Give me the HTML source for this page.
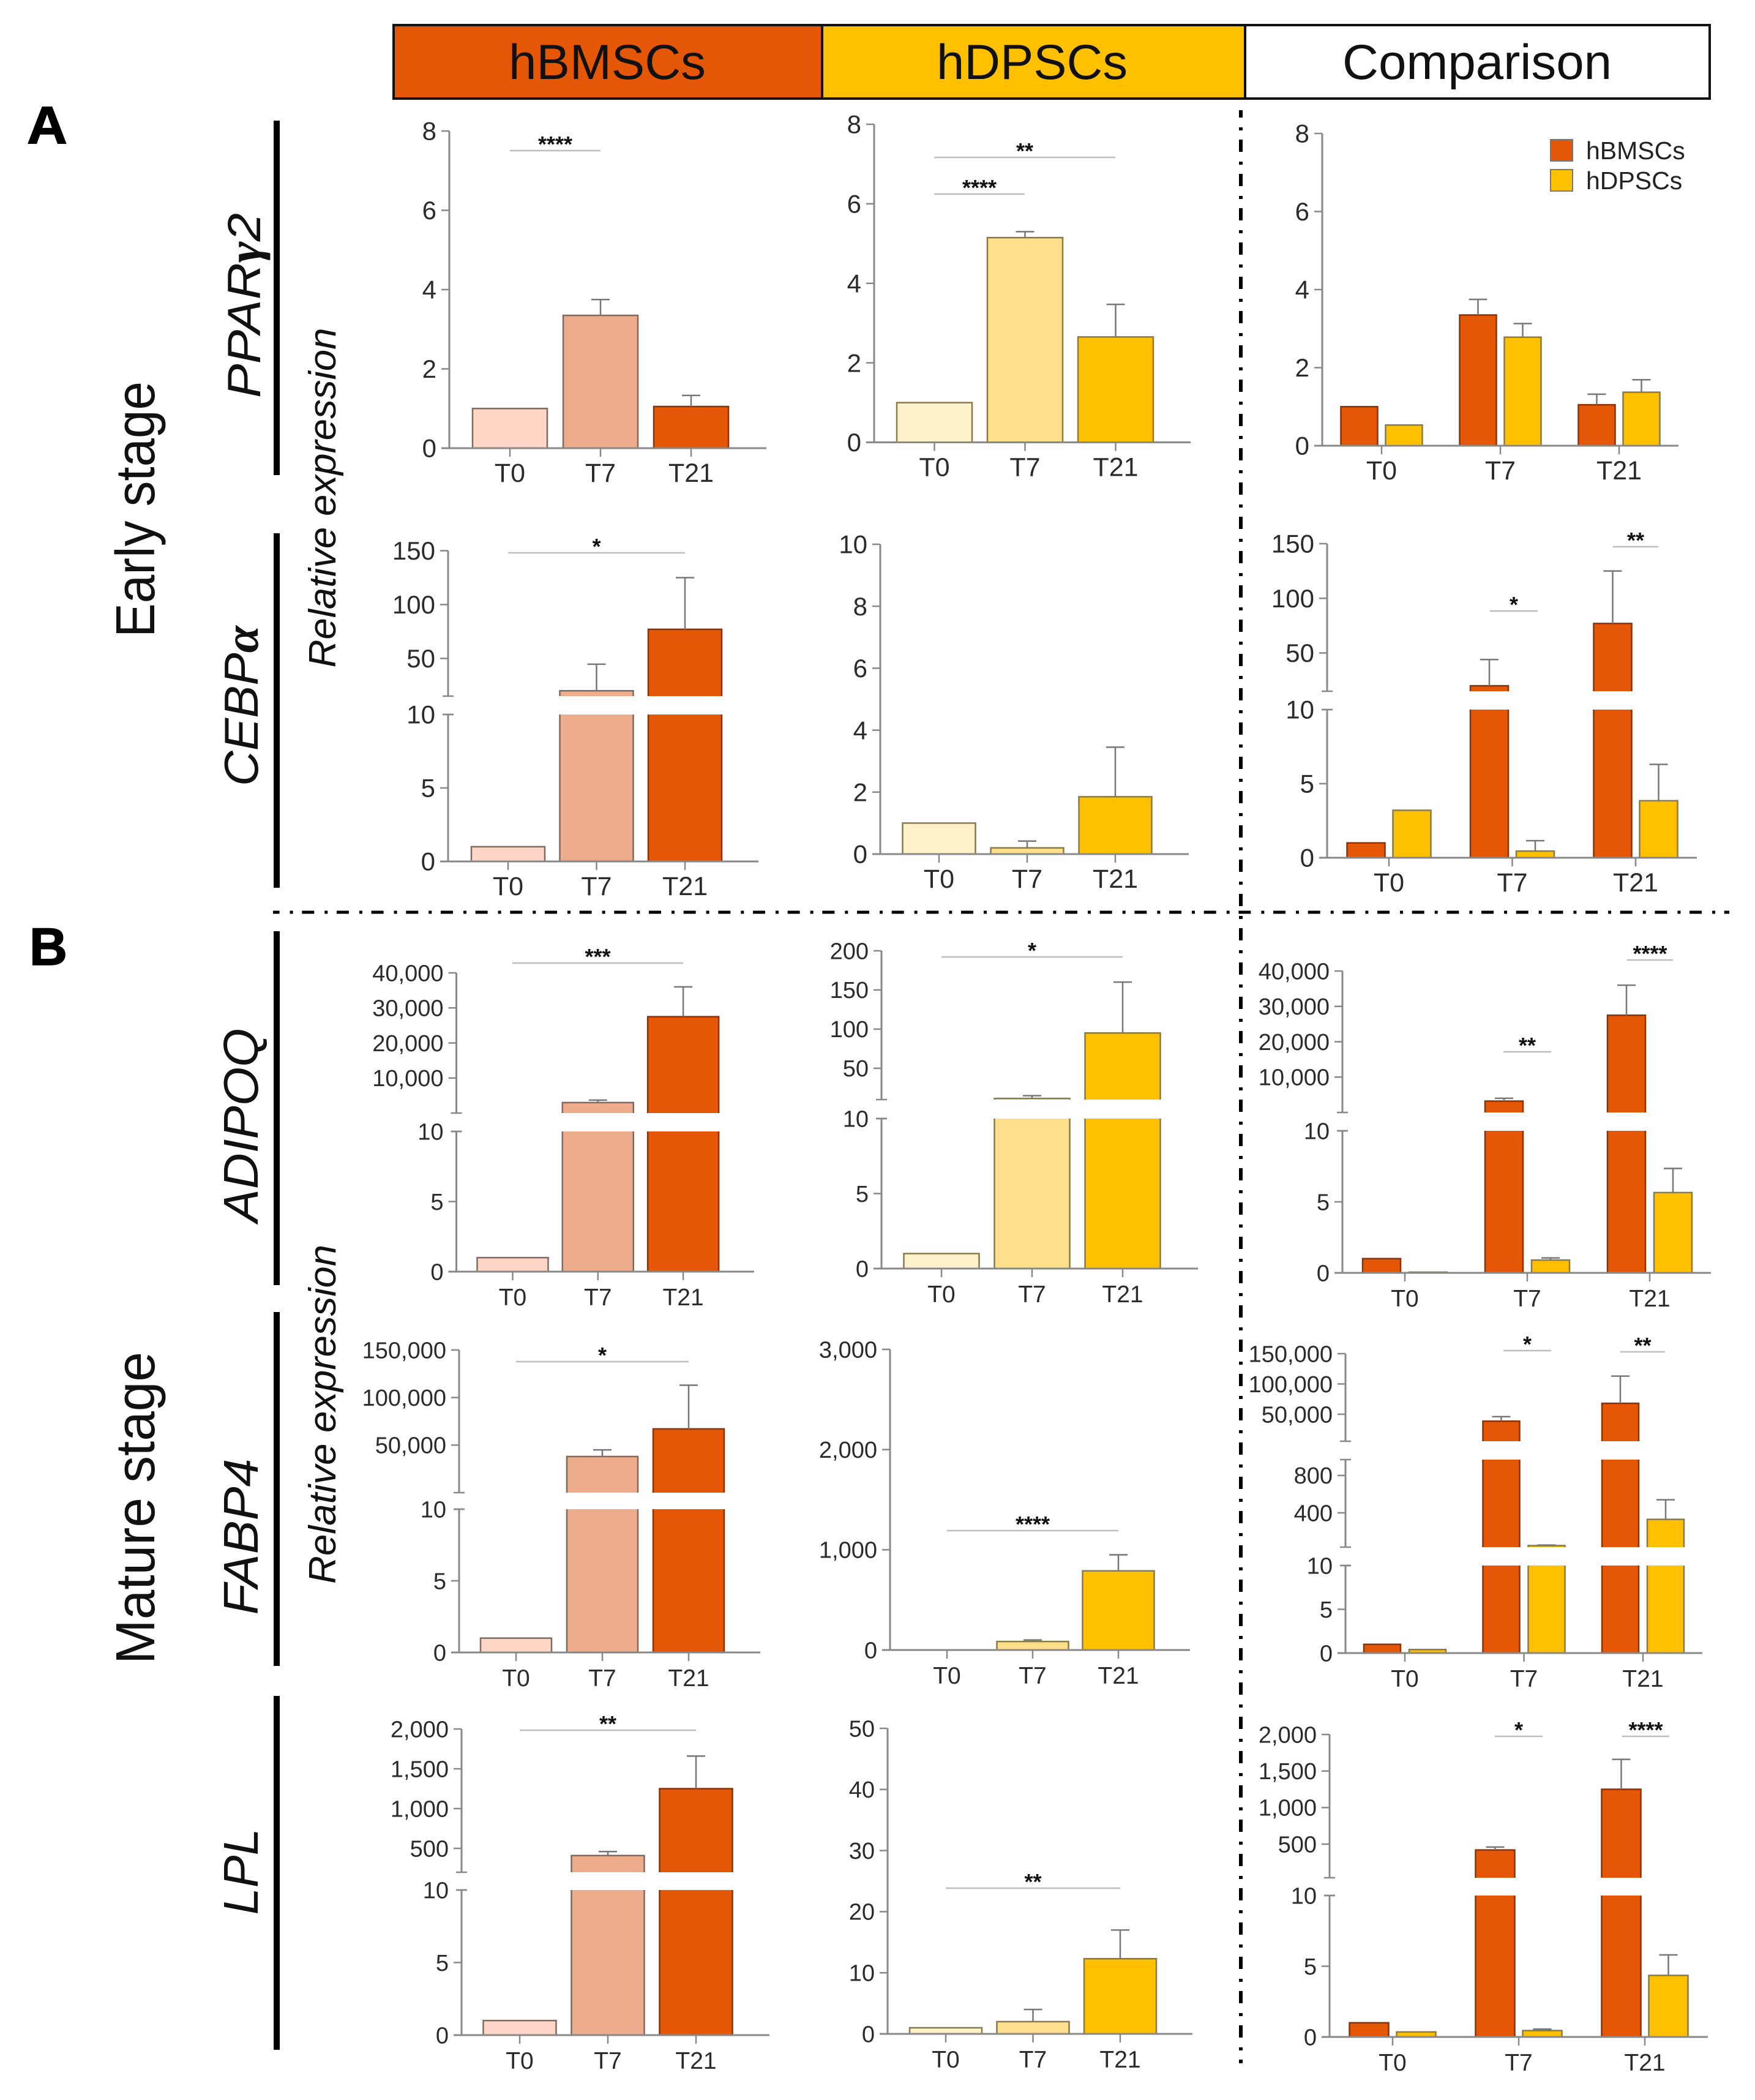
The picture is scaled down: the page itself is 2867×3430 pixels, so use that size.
<!DOCTYPE html>
<html lang="en">
<head>
<meta charset="utf-8">
<title>Relative expression of adipogenic genes</title>
<style>
html,body{margin:0;padding:0;background:#fff;}
svg{display:block;}
text{font-family:"Liberation Sans",Arial,sans-serif;}
.greek{font-family:"Liberation Serif",serif;font-weight:bold;font-style:italic;}
</style>
</head>
<body>
<svg id="figure" xmlns="http://www.w3.org/2000/svg" width="2867" height="3430" viewBox="0 0 2867 3430">
<rect x="0" y="0" width="2867" height="3430" fill="#ffffff"/>

<g>
  <rect x="643" y="41" width="700" height="120" fill="#E35706" stroke="#111" stroke-width="4"/>
  <rect x="1343" y="41" width="691" height="120" fill="#FFC000" stroke="#111" stroke-width="4"/>
  <rect x="2034" y="41" width="759" height="120" fill="#ffffff" stroke="#111" stroke-width="4"/>
  <text x="992" y="129" font-size="81" text-anchor="middle" textLength="322" lengthAdjust="spacingAndGlyphs" fill="#111">hBMSCs</text>
  <text x="1686" y="129" font-size="81" text-anchor="middle" textLength="312" lengthAdjust="spacingAndGlyphs" fill="#111">hDPSCs</text>
  <text x="2413" y="129" font-size="81" text-anchor="middle" textLength="440" lengthAdjust="spacingAndGlyphs" fill="#111">Comparison</text>
</g>

<text x="44" y="234" font-size="86" font-weight="bold" fill="#000" stroke="#000" stroke-width="1.5" textLength="66" lengthAdjust="spacingAndGlyphs">A</text>
<text x="48" y="1576" font-size="86" font-weight="bold" fill="#000" stroke="#000" stroke-width="1.5" textLength="62" lengthAdjust="spacingAndGlyphs">B</text>

<text transform="translate(252,832) rotate(-90)" font-size="90" text-anchor="middle" textLength="418" lengthAdjust="spacingAndGlyphs" fill="#111">Early stage</text>
<text transform="translate(252,2463) rotate(-90)" font-size="90" text-anchor="middle" textLength="510" lengthAdjust="spacingAndGlyphs" fill="#111">Mature stage</text>

<text transform="translate(548,813) rotate(-90)" font-size="62" font-style="italic" text-anchor="middle" textLength="555" lengthAdjust="spacingAndGlyphs" fill="#111">Relative expression</text>
<text transform="translate(548,2310) rotate(-90)" font-size="62" font-style="italic" text-anchor="middle" textLength="554" lengthAdjust="spacingAndGlyphs" fill="#111">Relative expression</text>

<text transform="translate(425,499) rotate(-90)" font-size="76" font-style="italic" text-anchor="middle" textLength="302" lengthAdjust="spacingAndGlyphs" fill="#111">PPAR<tspan class="greek">γ</tspan>2</text>
<text transform="translate(421,1153) rotate(-90)" font-size="78" font-style="italic" text-anchor="middle" textLength="262" lengthAdjust="spacingAndGlyphs" fill="#111">CEBP<tspan class="greek">α</tspan></text>
<text transform="translate(421,1838) rotate(-90)" font-size="80" font-style="italic" text-anchor="middle" textLength="317" lengthAdjust="spacingAndGlyphs" fill="#111">ADIPOQ</text>
<text transform="translate(421,2510) rotate(-90)" font-size="80" font-style="italic" text-anchor="middle" textLength="255" lengthAdjust="spacingAndGlyphs" fill="#111">FABP4</text>
<text transform="translate(421,3057) rotate(-90)" font-size="80" font-style="italic" text-anchor="middle" textLength="141" lengthAdjust="spacingAndGlyphs" fill="#111">LPL</text>

<g fill="#000">
  <rect x="447" y="197" width="10" height="579"/>
  <rect x="447" y="871" width="10" height="579"/>
  <rect x="447" y="1521" width="10" height="578"/>
  <rect x="447" y="2143" width="10" height="578"/>
  <rect x="447" y="2770" width="10" height="578"/>
</g>

<line x1="446" y1="1490" x2="2825" y2="1490" stroke="#000" stroke-width="5" stroke-dasharray="20 17 5 14.67" stroke-dashoffset="9.4"/>
<line x1="2027" y1="180" x2="2027" y2="3370" stroke="#000" stroke-width="6" stroke-dasharray="20 16 5 15" stroke-dashoffset="8"/>

<g id="panels"></g>

<g>
  <rect x="2533" y="228" width="36" height="35" fill="#E35706" stroke="#777" stroke-width="2"/>
  <rect x="2533" y="277" width="36" height="35" fill="#FFC000" stroke="#777" stroke-width="2"/>
  <text x="2591" y="260" font-size="41" fill="#222">hBMSCs</text>
  <text x="2591" y="309" font-size="41" fill="#222">hDPSCs</text>
</g>
</svg>

<script>
// ---- shared categories ----
const timepoints = ['T0', 'T7', 'T21'];

// ---- PPARg2 ----
const ppargBmscMeans = [1, 3.35, 1.05];
const ppargBmscErrorTops = [1, 3.75, 1.33];
const ppargDpscMeans = [1, 5.15, 2.65];
const ppargDpscErrorTops = [1, 5.3, 3.47];
const ppargCmpBmscMeans = [1, 3.35, 1.05];
const ppargCmpBmscErrorTops = [1, 3.75, 1.32];
const ppargCmpDpscMeans = [0.53, 2.78, 1.37];
const ppargCmpDpscErrorTops = [0.53, 3.13, 1.69];
const ppargTicks = [0, 2, 4, 6, 8];

// ---- CEBPa ----
const cebpaBmscMeans = [1, 20, 77];
const cebpaBmscErrorTops = [1, 44.6, 125];
const cebpaDpscMeans = [1, 0.2, 1.85];
const cebpaDpscErrorTops = [1, 0.42, 3.45];
const cebpaCmpBmscMeans = [1, 20, 77];
const cebpaCmpBmscErrorTops = [1, 44, 125];
const cebpaCmpDpscMeans = [3.2, 0.45, 3.85];
const cebpaCmpDpscErrorTops = [3.2, 1.15, 6.3];
const cebpaUpperTicks = [50, 100, 150];
const cebpaLowerTicks = [0, 5, 10];
const cebpaDpscTicks = [0, 2, 4, 6, 8, 10];

// ---- ADIPOQ ----
const adipoqBmscMeans = [1, 3000, 27500];
const adipoqBmscErrorTops = [1, 3700, 36000];
const adipoqDpscMeans = [1, 11.5, 95];
const adipoqDpscErrorTops = [1, 15, 160];
const adipoqCmpBmscMeans = [1, 3200, 27500];
const adipoqCmpBmscErrorTops = [1, 4000, 36000];
const adipoqCmpDpscMeans = [0.05, 0.9, 5.65];
const adipoqCmpDpscErrorTops = [0.05, 1.05, 7.35];
const adipoqUpperTicks = [10000, 20000, 30000, 40000];
const adipoqDpscUpperTicks = [50, 100, 150, 200];
const adipoqLowerTicks = [0, 5, 10];

// ---- FABP4 ----
const fabp4BmscMeans = [1, 38000, 67000];
const fabp4BmscErrorTops = [1, 45000, 113000];
const fabp4DpscMeans = [1, 85, 790];
const fabp4DpscErrorTops = [1, 100, 950];
const fabp4CmpBmscMeans = [1, 38600, 68000];
const fabp4CmpBmscErrorTops = [1, 46000, 113000];
const fabp4CmpDpscMeans = [0.4, 49, 330];
const fabp4CmpDpscErrorTops = [0.4, 55, 540];
const fabp4UpperTicks = [50000, 100000, 150000];
const fabp4MiddleTicks = [400, 800];
const fabp4LowerTicks = [0, 5, 10];
const fabp4DpscTicks = [0, 1000, 2000, 3000];

// ---- LPL ----
const lplBmscMeans = [1, 410, 1250];
const lplBmscErrorTops = [1, 460, 1660];
const lplDpscMeans = [1, 2, 12.3];
const lplDpscErrorTops = [1, 4, 17];
const lplCmpBmscMeans = [1, 420, 1250];
const lplCmpBmscErrorTops = [1, 460, 1660];
const lplCmpDpscMeans = [0.35, 0.45, 4.35];
const lplCmpDpscErrorTops = [0.35, 0.55, 5.8];
const lplUpperTicks = [500, 1000, 1500, 2000];
const lplLowerTicks = [0, 5, 10];
const lplDpscTicks = [0, 10, 20, 30, 40, 50];

// ---- palette ----
const BM = '#E35706', BM_LIGHT = '#EDAD8D', BM_PALE = '#FFD6C6';
const DP = '#FFC000', DP_LIGHT = '#FFDF8B', DP_PALE = '#FFF1C9';
const bmShades = [BM_PALE, BM_LIGHT, BM];
const dpShades = [DP_PALE, DP_LIGHT, DP];
const NS = 'http://www.w3.org/2000/svg';
const root = document.getElementById('panels');

function mk(tag, attrs, parent) {
  const e = document.createElementNS(NS, tag);
  for (const k in attrs) e.setAttribute(k, attrs[k]);
  parent.appendChild(e);
  return e;
}

// y scale for one axis segment
function segScale(s) {
  return v => s.pLo + (v - s.lo) / (s.hi - s.lo) * (s.pHi - s.pLo);
}

function drawBar(g, cx, w, mean, top, fill, segs, stroke) {
  segs.forEach((s, i) => {
    // a bar only reaches a higher axis segment when it exceeds everything below it
    if (mean <= s.lo) return;
    if (i > 0 && mean <= segs[i - 1].hi) return;
    const y = segScale(s);
    const isTop = mean <= s.hi;
    const py = isTop ? y(mean) : s.pHi;
    const x0 = cx - w / 2, x1 = cx + w / 2;
    const r = mk('rect', {x: x0, y: py, width: w, height: s.pLo - py, fill: fill}, g);
    
    
    const d = isTop
      ? `M${x0} ${s.pLo}V${py}H${x1}V${s.pLo}`
      : `M${x0} ${s.pLo}V${py}M${x1} ${py}V${s.pLo}`;
    const o = mk('path', {d: d, fill: 'none', stroke: stroke, 'stroke-width': 2.5}, g);
    
    
    if (isTop && top > mean) {
      const t = Math.min(top, s.hi);
      const ty = y(t);
      const eb = mk('path', {d: `M${cx} ${py}V${ty}M${cx - 15} ${ty}H${cx + 15}`, fill: 'none', stroke: '#777', 'stroke-width': 2.5}, g);
      
      
    }
  });
}

function drawPanel(p) {
  const g = mk('g', {}, root);
  
  
  const fs = p.fs || 40;
  const base = p.segs[0].pLo;

  // bars
  const grouped = p.series.length > 1;
  p.series.forEach((ser, si) => {
    timepoints.forEach((t, i) => {
      const cx = p.c0 + i * p.step + (grouped ? (si === 0 ? -p.off : p.off) : 0);
      const strokeCol = ser.shades[2] === BM ? (grouped || i === 2 ? '#8A3208' : '#7E6A60') : '#8A7A4A';
      drawBar(g, cx, p.barW, ser.means[i], ser.tops[i], ser.shades[i], p.segs, strokeCol);
    });
  });

  // y axis segments
  p.segs.forEach((s, si) => {
    const y = segScale(s);
    const ax = mk('line', {x1: p.x0, x2: p.x0, y1: s.pLo, y2: s.pHi, stroke: '#888', 'stroke-width': 3}, g);
    
    
    if (si > 0) {
      const bt = mk('line', {x1: p.x0 - 9, x2: p.x0 + 9, y1: s.pLo, y2: s.pLo, stroke: '#888', 'stroke-width': 2.5}, g);
      
      
    }
    s.ticks.forEach(v => {
      const py = y(v);
      const isBreak = si < p.segs.length - 1 && v === s.hi;
      const tk = mk('line', {x1: p.x0 - (isBreak ? 9 : 13), x2: p.x0 + (isBreak ? 9 : 0), y1: py, y2: py, stroke: '#888', 'stroke-width': 2.5}, g);
      
      
      const lb = mk('text', {x: p.x0 - 21, y: py + fs * 0.35, 'font-size': fs, 'text-anchor': 'end', fill: '#2b2b2b'}, g);
      
      
      lb.textContent = v.toLocaleString('en-US');
    });
    if (si < p.segs.length - 1) {
      const tp = mk('line', {x1: p.x0 - 9, x2: p.x0 + 9, y1: s.pHi, y2: s.pHi, stroke: '#888', 'stroke-width': 2.5}, g);
      
      
    }
  });

  // x axis
  const xa = mk('line', {x1: p.x0 - 13, x2: p.x1, y1: base, y2: base, stroke: '#888', 'stroke-width': 3}, g);
  
  
  timepoints.forEach((t, i) => {
    const cx = p.c0 + i * p.step;
    const tk = mk('line', {x1: cx, x2: cx, y1: base, y2: base + 14, stroke: '#888', 'stroke-width': 2.5}, g);
    
    
    const lb = mk('text', {x: cx, y: base + 55, 'font-size': fs + 1, 'text-anchor': 'middle', fill: '#2b2b2b'}, g);
    
    
    lb.textContent = t;
  });

  // significance brackets
  (p.sig || []).forEach(sg => {
    const l = mk('line', {x1: sg[0], x2: sg[1], y1: sg[2], y2: sg[2], stroke: '#bdbdbd', 'stroke-width': 2.5}, g);
    
    
    const st = mk('text', {x: (sg[0] + sg[1]) / 2, y: sg[2] + 2, 'font-size': 36, 'font-weight': 'bold', 'text-anchor': 'middle', fill: '#111'}, g);
    
    
    st.textContent = sg[3];
  });
}

function single(means, tops, shades) { return [{means: means, tops: tops, shades: shades}]; }
function pair(m1, t1, m2, t2) {
  return [{means: m1, tops: t1, shades: [BM, BM, BM]}, {means: m2, tops: t2, shades: [DP, DP, DP]}];
}

// ---- column 1: hBMSCs ----
drawPanel({name: 'panel-pparg2-hbmscs', x0: 734, x1: 1252, c0: 833, step: 148, barW: 122, fs: 42,
  series: single(ppargBmscMeans, ppargBmscErrorTops, bmShades),
  segs: [{lo: 0, hi: 8, pLo: 732, pHi: 214, ticks: ppargTicks}],
  sig: [[833, 981, 246, '****']]});
drawPanel({name: 'panel-cebpa-hbmscs', x0: 732, x1: 1239, c0: 830, step: 144.5, barW: 120, fs: 42,
  series: single(cebpaBmscMeans, cebpaBmscErrorTops, bmShades),
  segs: [{lo: 0, hi: 10, pLo: 1407, pHi: 1167, ticks: cebpaLowerTicks},
         {lo: 15, hi: 150, pLo: 1137, pHi: 899.5, ticks: cebpaUpperTicks}],
  sig: [[830, 1119, 903, '*']]});
drawPanel({name: 'panel-adipoq-hbmscs', x0: 745.5, x1: 1232, c0: 837.5, step: 139.3, barW: 116, fs: 38,
  series: single(adipoqBmscMeans, adipoqBmscErrorTops, bmShades),
  segs: [{lo: 0, hi: 10, pLo: 2077, pHi: 1848, ticks: adipoqLowerTicks},
         {lo: 0, hi: 40000, pLo: 1818, pHi: 1589, ticks: adipoqUpperTicks}],
  sig: [[837, 1116, 1573, '***']]});
drawPanel({name: 'panel-fabp4-hbmscs', x0: 750, x1: 1242, c0: 843, step: 141, barW: 116, fs: 38,
  series: single(fabp4BmscMeans, fabp4BmscErrorTops, bmShades),
  segs: [{lo: 0, hi: 10, pLo: 2699, pHi: 2465, ticks: fabp4LowerTicks},
         {lo: 0, hi: 150000, pLo: 2438, pHi: 2205, ticks: fabp4UpperTicks}],
  sig: [[843, 1125, 2224, '*']]});
drawPanel({name: 'panel-lpl-hbmscs', x0: 754, x1: 1257, c0: 849, step: 144, barW: 119, fs: 38,
  series: single(lplBmscMeans, lplBmscErrorTops, bmShades),
  segs: [{lo: 0, hi: 10, pLo: 3324, pHi: 3087, ticks: lplLowerTicks},
         {lo: 200, hi: 2000, pLo: 3058, pHi: 2824, ticks: lplUpperTicks}],
  sig: [[849, 1137, 2826, '**']]});

// ---- column 2: hDPSCs ----
drawPanel({name: 'panel-pparg2-hdpscs', x0: 1428, x1: 1945, c0: 1526.5, step: 148, barW: 123, fs: 42,
  series: single(ppargDpscMeans, ppargDpscErrorTops, dpShades),
  segs: [{lo: 0, hi: 8, pLo: 722.5, pHi: 203, ticks: ppargTicks}],
  sig: [[1526, 1822, 257, '**'], [1526, 1674, 317, '****']]});
drawPanel({name: 'panel-cebpa-hdpscs', x0: 1438, x1: 1942, c0: 1534, step: 144, barW: 119, fs: 42,
  series: single(cebpaDpscMeans, cebpaDpscErrorTops, dpShades),
  segs: [{lo: 0, hi: 10, pLo: 1395, pHi: 889, ticks: cebpaDpscTicks}]});
drawPanel({name: 'panel-adipoq-hdpscs', x0: 1440, x1: 1957, c0: 1538, step: 148, barW: 123, fs: 38,
  series: single(adipoqDpscMeans, adipoqDpscErrorTops, dpShades),
  segs: [{lo: 0, hi: 10, pLo: 2072, pHi: 1827, ticks: adipoqLowerTicks},
         {lo: 10, hi: 200, pLo: 1796, pHi: 1553, ticks: adipoqDpscUpperTicks}],
  sig: [[1538, 1834, 1563, '*']]});
drawPanel({name: 'panel-fabp4-hdpscs', x0: 1454, x1: 1944, c0: 1547, step: 140, barW: 117, fs: 38,
  series: single(fabp4DpscMeans, fabp4DpscErrorTops, dpShades),
  segs: [{lo: 0, hi: 3000, pLo: 2695, pHi: 2204, ticks: fabp4DpscTicks}],
  sig: [[1547, 1827, 2500, '****']]});
drawPanel({name: 'panel-lpl-hdpscs', x0: 1450, x1: 1948, c0: 1545, step: 142.5, barW: 118, fs: 38,
  series: single(lplDpscMeans, lplDpscErrorTops, dpShades),
  segs: [{lo: 0, hi: 50, pLo: 3322, pHi: 2823, ticks: lplDpscTicks}],
  sig: [[1545, 1830, 3084, '**']]});

// ---- column 3: comparison ----
drawPanel({name: 'panel-pparg2-comparison', x0: 2160, x1: 2742, c0: 2257, step: 194, barW: 60, off: 36.5, fs: 42,
  series: pair(ppargCmpBmscMeans, ppargCmpBmscErrorTops, ppargCmpDpscMeans, ppargCmpDpscErrorTops),
  segs: [{lo: 0, hi: 8, pLo: 728, pHi: 218, ticks: ppargTicks}]});
drawPanel({name: 'panel-cebpa-comparison', x0: 2168, x1: 2772, c0: 2269, step: 201.5, barW: 62, off: 37.5, fs: 42,
  series: pair(cebpaCmpBmscMeans, cebpaCmpBmscErrorTops, cebpaCmpDpscMeans, cebpaCmpDpscErrorTops),
  segs: [{lo: 0, hi: 10, pLo: 1401, pHi: 1159, ticks: cebpaLowerTicks},
         {lo: 15, hi: 150, pLo: 1129, pHi: 888, ticks: cebpaUpperTicks}],
  sig: [[2434, 2512, 998, '*'], [2635, 2709, 893, '**']]});
drawPanel({name: 'panel-adipoq-comparison', x0: 2193, x1: 2795, c0: 2295, step: 200, barW: 62, off: 38, fs: 38,
  series: pair(adipoqCmpBmscMeans, adipoqCmpBmscErrorTops, adipoqCmpDpscMeans, adipoqCmpDpscErrorTops),
  segs: [{lo: 0, hi: 10, pLo: 2079, pHi: 1847, ticks: adipoqLowerTicks},
         {lo: 0, hi: 40000, pLo: 1817, pHi: 1586, ticks: adipoqUpperTicks}],
  sig: [[2456, 2534, 1718, '**'], [2658, 2733, 1568, '****']]});
drawPanel({name: 'panel-fabp4-comparison', x0: 2198, x1: 2781, c0: 2295, step: 194.5, barW: 60, off: 37, fs: 38,
  series: pair(fabp4CmpBmscMeans, fabp4CmpBmscErrorTops, fabp4CmpDpscMeans, fabp4CmpDpscErrorTops),
  segs: [{lo: 0, hi: 10, pLo: 2700, pHi: 2557, ticks: fabp4LowerTicks},
         {lo: 33, hi: 970, pLo: 2527, pHi: 2384, ticks: fabp4MiddleTicks},
         {lo: 5500, hi: 150000, pLo: 2354, pHi: 2211, ticks: fabp4UpperTicks}],
  sig: [[2456, 2534, 2206, '*'], [2647, 2720, 2208, '**']]});
drawPanel({name: 'panel-lpl-comparison', x0: 2172, x1: 2790, c0: 2275, step: 206, barW: 64, off: 38.5, fs: 38,
  series: pair(lplCmpBmscMeans, lplCmpBmscErrorTops, lplCmpDpscMeans, lplCmpDpscErrorTops),
  segs: [{lo: 0, hi: 10, pLo: 3327, pHi: 3096, ticks: lplLowerTicks},
         {lo: 40, hi: 2000, pLo: 3067, pHi: 2833, ticks: lplUpperTicks}],
  sig: [[2442, 2520, 2836, '*'], [2650, 2727, 2836, '****']]});
</script>
</body>
</html>
